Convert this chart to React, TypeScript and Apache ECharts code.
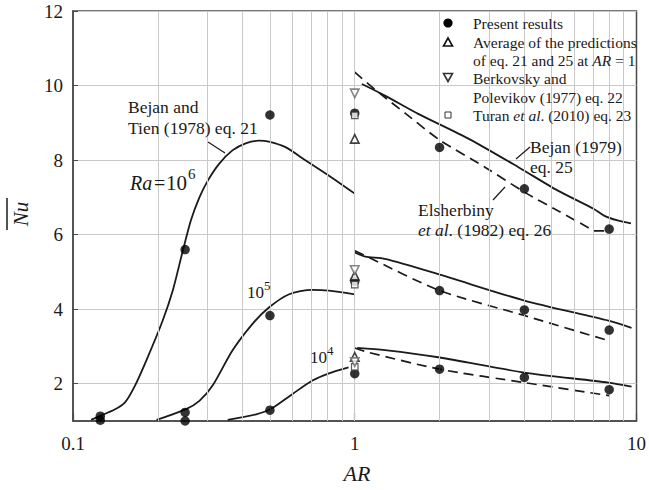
import React, { useEffect, useRef } from "react";
import * as echarts from "echarts";

// ---------- data ----------
const xTickLabels = ["0.1", "1", "10"];
const yTickValues = [2, 4, 6, 8, 10, 12];
const xGridValues = [0.2, 0.3, 0.4, 0.5, 0.6, 0.7, 0.8, 0.9, 1, 2, 3, 4, 5, 6, 7, 8, 9];

const presentResults: [number, number][] = [
  [0.125, 1.13], [0.125, 1.02],
  [0.25, 5.6], [0.25, 1.23], [0.25, 1.0],
  [0.5, 9.21], [0.5, 3.83], [0.5, 1.29],
  [1, 9.26], [1, 4.75], [1, 2.27],
  [2, 8.34], [2, 4.5], [2, 2.39],
  [4, 7.23], [4, 3.98], [4, 2.17],
  [8, 6.15], [8, 3.44], [8, 1.84],
];
const averageEq21Eq25: [number, number][] = [[1, 8.57], [1, 4.9], [1, 2.72]];
const berkovskyEq22: [number, number][] = [[1, 9.79], [1, 5.05], [1, 2.58]];
const turanEq23: [number, number][] = [[1, 9.2], [1, 4.66], [1, 2.45]];

const bejanTienRa1e6: [number, number][] = [
  [0.116, 1.03], [0.125, 1.14], [0.14, 1.3], [0.153, 1.5], [0.166, 1.95], [0.182, 2.62],
  [0.208, 3.69], [0.226, 4.5], [0.245, 5.55], [0.262, 6.38], [0.281, 7.0],
  [0.301, 7.45], [0.33, 7.9], [0.368, 8.26], [0.41, 8.45], [0.455, 8.52], [0.5, 8.49],
  [0.57, 8.34], [0.67, 7.99], [0.81, 7.58], [1.0, 7.1],
];
const bejanTienRa1e5: [number, number][] = [
  [0.198, 1.03], [0.252, 1.32], [0.281, 1.54], [0.313, 1.95], [0.368, 2.89],
  [0.433, 3.6], [0.497, 4.05], [0.585, 4.4], [0.705, 4.52], [0.81, 4.5], [1.0, 4.4],
];
const bejanTienRa1e4: [number, number][] = [
  [0.354, 1.03], [0.447, 1.18], [0.503, 1.32], [0.6, 1.72], [0.705, 2.08],
  [0.81, 2.28], [0.95, 2.44],
];

const bejanRa1e6: [number, number][] = [
  [1.06, 10.04], [1.28, 9.73], [1.68, 9.24], [2.54, 8.57], [3.81, 7.81],
  [5.26, 7.18], [7.06, 6.69], [7.67, 6.51], [8.56, 6.38], [9.56, 6.3],
];
const bejanRa1e5: [number, number][] = [
  [1.0, 5.52], [1.09, 5.41], [1.28, 5.35], [1.98, 4.94], [4.0, 4.23], [7.95, 3.69], [9.6, 3.5],
];
const bejanRa1e4: [number, number][] = [
  [1.02, 2.96], [1.28, 2.9], [1.98, 2.71], [4.0, 2.3], [7.95, 2.03], [9.6, 1.92],
];

const elsherbinyRa1e6: [number, number][] = [
  [1.0, 10.36], [1.19, 9.87], [1.52, 9.24], [2.0, 8.54], [2.9, 7.81], [4.0, 7.14],
  [5.26, 6.64], [6.7, 6.2], [7.06, 6.1], [8.0, 6.1],
];
const elsherbinyRa1e5: [number, number][] = [
  [1.0, 5.57], [1.12, 5.39], [2.0, 4.5], [4.0, 3.83], [8.0, 3.15],
];
const elsherbinyRa1e4: [number, number][] = [
  [1.0, 2.96], [1.12, 2.84], [2.0, 2.39], [4.0, 2.03], [8.0, 1.68],
];

// ---------- styling ----------
const FONT = "Liberation Serif";
const INK = "#1a1a1a";
const ANN = 17.5;

function txt(x: number, y: number, text: string, size = 16, extra: any = {}) {
  return {
    type: "text",
    silent: true,
    z: 100,
    style: {
      x, y, text,
      fontSize: size,
      fontFamily: FONT,
      fill: INK,
      align: "left",
      verticalAlign: "middle",
      ...extra,
    },
  };
}
function seg(x1: number, y1: number, x2: number, y2: number, w = 1.2) {
  return {
    type: "line",
    silent: true,
    z: 100,
    shape: { x1, y1, x2, y2 },
    style: { stroke: INK, lineWidth: w },
  };
}

const solid = (data: [number, number][]) => ({
  type: "line",
  data,
  showSymbol: false,
  smooth: 0.25,
  z: 3,
  lineStyle: { color: INK, width: 1.8 },
});
const dashed = (data: [number, number][]) => ({
  type: "line",
  data,
  showSymbol: false,
  smooth: 0.25,
  z: 3,
  lineStyle: { color: INK, width: 1.7, type: [10, 6] },
});

export default function App() {
  const ref = useRef<HTMLDivElement>(null);
  useEffect(() => {
    const chart = echarts.init(ref.current!, null, { renderer: "svg" });
    const italicLegend = { fontStyle: "italic", fontSize: 15.5, fontFamily: FONT, fill: INK };
    const italicAnn = { fontStyle: "italic", fontSize: ANN, fontFamily: FONT, fill: INK };
    const option: any = {
      animation: false,
      backgroundColor: "#ffffff",
      textStyle: { fontFamily: FONT },
      grid: {
        left: 73, right: 11, top: 11, bottom: 69,
        show: true, borderColor: "#4a4a4a", borderWidth: 1.5, backgroundColor: "transparent",
      },
      xAxis: {
        type: "log",
        logBase: 10,
        min: 0.1,
        max: 10,
        axisLine: { lineStyle: { color: "#4a4a4a", width: 1.5 } },
        axisTick: { show: true, inside: true, length: 8, lineStyle: { color: "#4a4a4a", width: 1.2 } },
        splitLine: { show: false },
        axisLabel: {
          margin: 13,
          fontSize: 19,
          fontFamily: FONT,
          color: INK,
          formatter: (v: number) => {
            const i = Math.round(Math.log10(v)) + 1;
            return xTickLabels[i] ?? String(v);
          },
        },
      },
      yAxis: {
        type: "value",
        min: 1,
        max: 12,
        axisLine: { show: true, lineStyle: { color: "#4a4a4a", width: 1.5 } },
        axisTick: { show: true, inside: true, length: 5, customValues: yTickValues, lineStyle: { color: "#4a4a4a" } },
        splitLine: { show: true, lineStyle: { color: "#c9c9c9", width: 1 } },
        axisLabel: {
          customValues: yTickValues,
          margin: 10,
          fontSize: 19,
          fontFamily: FONT,
          color: INK,
        },
      },
      series: [
        {
          type: "line",
          data: [],
          z: 1,
          markLine: {
            silent: true,
            symbol: "none",
            label: { show: false },
            lineStyle: { color: "#c9c9c9", width: 1, type: "solid" },
            data: xGridValues.map((v) => ({ xAxis: v })),
          },
        },
        solid(bejanTienRa1e6),
        solid(bejanTienRa1e5),
        solid(bejanTienRa1e4),
        solid(bejanRa1e6),
        solid(bejanRa1e5),
        solid(bejanRa1e4),
        dashed(elsherbinyRa1e6),
        dashed(elsherbinyRa1e5),
        dashed(elsherbinyRa1e4),
        {
          type: "scatter",
          data: presentResults,
          symbol: "circle",
          symbolSize: 9.5,
          z: 5,
          itemStyle: { color: "#000" },
        },
        {
          type: "scatter",
          data: turanEq23,
          symbol: "rect",
          symbolSize: 6.5,
          z: 6,
          itemStyle: { color: "#fff", borderColor: "#333", borderWidth: 1.2 },
        },
        {
          type: "scatter",
          data: averageEq21Eq25,
          symbol: "triangle",
          symbolSize: 8.5,
          z: 7,
          itemStyle: { color: "#fff", borderColor: "#111", borderWidth: 1.6 },
        },
        {
          type: "scatter",
          data: berkovskyEq22,
          symbol: "triangle",
          symbolRotate: 180,
          symbolSize: 8.5,
          z: 7,
          itemStyle: { color: "#fff", borderColor: "#666", borderWidth: 1.6 },
        },
      ],
      graphic: [
        // axis names
        txt(357, 473, "AR", 22, { fontStyle: "italic", align: "center" }),
        {
          type: "text",
          silent: true,
          x: 21,
          y: 214,
          rotation: Math.PI / 2,
          style: {
            x: 0, y: 0, text: "Nu", fontSize: 21, fontStyle: "italic", fontFamily: FONT, fill: INK,
            align: "center", verticalAlign: "middle",
          },
        },
        seg(7, 198, 7, 230, 1.5),
        // legend
        { type: "circle", silent: true, z: 100, shape: { cx: 448, cy: 23, r: 4.6 }, style: { fill: "#000" } },
        {
          type: "polygon", silent: true, z: 100,
          shape: { points: [[448, 38], [452.5, 46], [443.5, 46]] },
          style: { fill: "#fff", stroke: "#111", lineWidth: 1.6 },
        },
        {
          type: "polygon", silent: true, z: 100,
          shape: { points: [[443.5, 73.5], [452.5, 73.5], [448, 81.5]] },
          style: { fill: "#fff", stroke: "#333", lineWidth: 1.6 },
        },
        { type: "rect", silent: true, z: 100, shape: { x: 445, y: 112, width: 6, height: 6 }, style: { fill: "#fff", stroke: "#333", lineWidth: 1 } },
        txt(473, 23, "Present results", 15.5),
        txt(473, 42, "Average of the predictions", 15.5),
        txt(473, 60, "of eq. 21 and 25 at {i|AR} = 1", 15.5, { rich: { i: italicLegend } }),
        txt(473, 78, "Berkovsky and", 15.5),
        txt(473, 97, "Polevikov (1977) eq. 22", 15.5),
        txt(473, 115, "Turan {i|et al}. (2010) eq. 23", 15.5, { rich: { i: italicLegend } }),
        // annotations, left
        txt(128, 107, "Bejan and", ANN),
        txt(128, 128, "Tien (1978) eq. 21", ANN),
        seg(208, 142, 225, 153),
        txt(130, 183, "Ra", 20, { fontStyle: "italic" }),
        txt(154, 183, "=", 20),
        txt(166, 183, "10", 21),
        txt(188, 174, "6", 15),
        txt(247, 292, "10", 17),
        txt(264, 285, "5", 13),
        txt(310, 357, "10", 17),
        txt(327, 350, "4", 13),
        // annotations, right
        txt(530, 147, "Bejan (1979)", ANN),
        txt(530, 167, "eq. 25", ANN),
        seg(516, 159, 530, 147),
        txt(418, 210, "Elsherbiny", ANN),
        txt(418, 230, "{i|et al}. (1982) eq. 26", ANN, { rich: { i: italicAnn } }),
        seg(493, 200, 505, 187),
      ],
    };
    chart.setOption(option);
    return () => chart.dispose();
  }, []);
  return <div ref={ref} style={{ position: "fixed", left: 0, top: 0, width: 649, height: 490 }} />;
}
